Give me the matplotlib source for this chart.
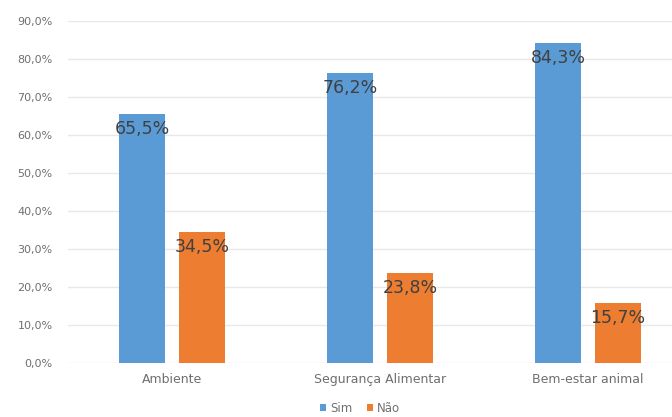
import numpy as np
import matplotlib
matplotlib.use("Agg")
import matplotlib.pyplot as plt

plt.rcParams['font.family'] = ['DejaVu Sans']

# Data
categories = ['Ambiente', 'Segurança Alimentar', 'Bem-estar animal']
sim = [65.5, 76.2, 84.3]
nao = [34.5, 23.8, 15.7]
series_names = ['Sim', 'Não']
yticks = [0, 10, 20, 30, 40, 50, 60, 70, 80, 90]

blue = '#5B9BD5'
orange = '#ED7D31'

fig = plt.figure(figsize=(6.72, 4.17), dpi=100)
ax = fig.add_axes([68 / 672, 54 / 417, 604 / 672, 342 / 417])

x = np.arange(len(categories))
w = 0.221
off = 0.144
b1 = ax.bar(x - off, sim, w, color=blue, label=series_names[0], zorder=3)
b2 = ax.bar(x + off, nao, w, color=orange, label=series_names[1], zorder=3)

for bars in (b1, b2):
    for r in bars:
        h = r.get_height()
        ax.annotate(f'{h:.1f}%'.replace('.', ','),
                    (r.get_x() + r.get_width() / 2, h),
                    xytext=(0, -15), textcoords='offset pixels',
                    ha='center', va='center', fontsize=12.5, color='#404040', zorder=4)

ax.set_xlim(-0.5, -0.5 + 604 / 208)
ax.set_ylim(0, 90)
ax.set_yticks(yticks)
ax.set_yticklabels([f'{v:.1f}%'.replace('.', ',') for v in yticks])
ax.set_xticks(x)
ax.set_xticklabels(categories)
ax.tick_params(axis='both', length=0, labelsize=8, labelcolor='#6F6F6F')
ax.tick_params(axis='x', labelsize=9)
ax.tick_params(axis='y', pad=11)
ax.tick_params(axis='x', pad=7)
ax.grid(axis='y', color='#E8E8E8', linewidth=1, zorder=0)
for s in ax.spines.values():
    s.set_visible(False)

leg = fig.legend(handles=[b1, b2], labels=series_names, loc='center',
                 bbox_to_anchor=(360 / 672, 1 - 408 / 417), ncol=2, frameon=False,
                 fontsize=8.5, handlelength=0.5, handleheight=0.5, handletextpad=0.4,
                 columnspacing=1.2)
for t in leg.get_texts():
    t.set_color('#6F6F6F')

fig.savefig('out.png', dpi=100)
